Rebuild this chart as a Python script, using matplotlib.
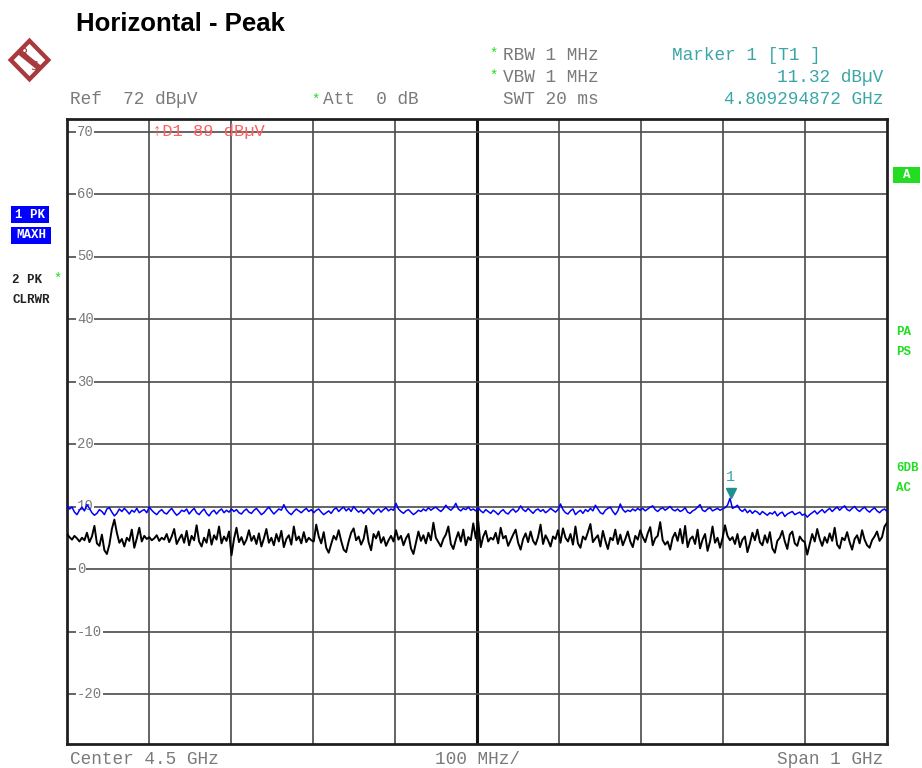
import numpy as np
import matplotlib
matplotlib.use("Agg")
import matplotlib.pyplot as plt
from matplotlib.patches import Polygon, FancyBboxPatch

# ---------------- data ----------------
f_start, f_stop = 4.0, 5.0          # GHz
ref_level = 72                       # dBuV
y_ticks = [70, 60, 50, 40, 30, 20, 10, 0, -10, -20]

# trace 2 : PK / CLRWR (black), 33 points per 100 MHz division
trace_clrwr = [
    5.6, 5.1, 4.7, 5.3, 4.9, 4.4, 5.0, 4.6, 5.8, 4.3, 5.2, 6.9, 4.1, 3.7, 5.5, 3.0, 2.4,
    3.9, 6.4, 7.9, 5.8, 4.2, 4.8, 3.6, 5.0, 4.5, 6.3, 3.4, 4.9, 6.6, 4.4, 5.3, 4.8,
    5.1, 4.6, 4.9, 5.4, 4.5, 5.0, 4.7, 5.6, 4.3, 5.2, 6.4, 4.0, 4.8, 5.5, 4.2, 6.1, 3.8,
    5.3, 4.6, 7.0, 4.4, 3.6, 5.0, 4.2, 6.3, 3.9, 5.4, 4.7, 6.8, 4.1, 5.2, 4.5, 6.0,
    2.2, 4.8, 6.6, 4.3, 5.1, 3.9, 4.7, 6.2, 4.5, 5.3, 4.0, 5.7, 3.6, 4.9, 6.4, 4.2, 5.0,
    3.8, 5.6, 4.4, 6.1, 3.5, 4.8, 5.4, 3.9, 6.8, 4.6, 5.2, 4.1, 5.9, 4.3, 5.0, 4.6,
    4.4, 7.1, 5.2, 4.1, 5.9, 3.4, 2.6, 4.0, 5.3, 4.7, 6.2, 4.5, 3.1, 2.7, 4.4, 5.8, 6.5,
    4.6, 5.2, 3.9, 4.8, 6.9, 4.3, 3.0, 5.6, 4.9, 6.0, 4.2, 5.1, 3.7, 4.6, 5.3, 4.4,
    6.2, 4.7, 5.3, 3.8, 4.9, 5.6, 3.3, 2.4, 4.2, 6.0, 4.5, 5.4, 4.1, 5.8, 4.6, 7.4, 5.0,
    4.3, 3.6, 4.8, 5.5, 6.8, 4.0, 3.2, 4.7, 5.9, 4.4, 6.3, 3.8, 5.1, 4.6, 7.3, 4.9,
    7.6, 3.5, 5.2, 6.1, 4.4, 5.0, 4.7, 5.8, 4.1, 6.6, 4.9, 5.3, 3.7, 4.6, 5.5, 6.3, 4.2,
    3.1, 4.8, 5.7, 4.3, 6.0, 4.5, 3.9, 5.1, 7.1, 4.0, 5.4, 4.6, 3.6, 5.2, 4.8, 6.2,
    4.2, 6.5, 5.0, 4.4, 5.6, 3.9, 6.8, 4.1, 3.4, 5.2, 4.7, 5.9, 7.2, 4.3, 4.9, 5.4, 3.6,
    6.1, 4.5, 3.2, 5.0, 4.6, 6.3, 4.0, 5.5, 3.8, 4.8, 6.0, 4.4, 3.5, 5.3, 4.7, 6.2,
    5.1, 4.3, 5.7, 6.7, 3.8, 4.9, 5.3, 7.5, 4.6, 3.9, 4.4, 3.1, 5.0, 5.8, 4.5, 6.4, 4.1,
    6.9, 3.5, 4.8, 5.2, 4.0, 6.3, 3.3, 4.7, 5.6, 2.9, 4.4, 6.8, 4.2, 5.0, 3.4, 4.9,
    7.0, 5.3, 4.6, 5.1, 4.0, 5.6, 3.5, 4.7, 5.2, 2.7, 4.1, 5.8, 4.6, 6.3, 4.3, 3.8, 5.4,
    4.2, 5.9, 3.3, 2.6, 4.5, 5.0, 6.1, 4.4, 3.2, 5.5, 6.0, 4.1, 3.7, 5.2, 4.6, 4.3,
    2.3, 4.0, 5.6, 4.4, 6.4, 4.8, 3.7, 5.1, 4.2, 5.7, 4.5, 6.6, 3.9, 3.3, 5.0, 4.6, 5.9,
    4.3, 3.1, 4.8, 5.4, 4.1, 6.2, 4.7, 3.8, 3.4, 4.6, 5.2, 6.0, 4.5, 5.1, 6.8, 7.4,
]

# trace 1 : PK / MAXH (blue)
trace_maxh = [
    10.2, 9.6, 9.9, 9.1, 8.7, 9.4, 9.9, 9.3, 10.3, 9.7, 9.0, 8.6, 8.9, 9.5, 9.2, 8.7, 9.6,
    9.8, 9.1, 8.5, 8.9, 9.6, 9.2, 9.7, 9.3, 8.8, 9.4, 9.1, 9.7, 9.0, 9.3, 9.5, 9.0,
    9.9, 9.4, 9.0, 8.7, 9.2, 9.5, 9.0, 8.8, 9.3, 9.7, 9.1, 8.6, 8.9, 9.4, 9.2, 9.6, 8.8,
    9.3, 9.7, 9.0, 8.7, 9.2, 9.6, 8.9, 8.5, 9.1, 9.4, 8.8, 9.3, 9.6, 9.0, 9.4, 9.1,
    9.6, 9.2, 9.5, 9.0, 8.8, 9.3, 9.6, 9.1, 8.9, 9.4, 9.7, 9.2, 8.7, 9.0, 9.5, 9.9, 9.3,
    8.8, 9.2, 9.6, 9.4, 10.3, 9.5, 9.0, 8.7, 9.2, 9.6, 9.3, 9.0, 9.4, 9.7, 9.2, 9.5,
    9.0, 9.4, 9.6, 9.1, 8.7, 9.0, 9.3, 8.9, 9.5, 9.8, 9.2, 9.6, 9.9, 9.3, 9.7, 9.2, 10.0,
    9.5, 9.1, 9.4, 8.9, 9.3, 9.7, 9.2, 8.8, 9.3, 9.6, 9.1, 9.5, 9.8, 9.3, 9.6, 9.4,
    10.5, 9.6, 9.2, 8.9, 9.3, 9.5, 9.1, 8.7, 9.0, 9.4, 9.2, 9.6, 9.3, 9.8, 9.4, 9.7, 9.9,
    9.5, 9.2, 9.6, 10.2, 9.7, 9.4, 9.8, 10.5, 9.6, 9.3, 9.7, 9.5, 9.9, 9.4, 9.6, 9.3,
    9.8, 9.3, 9.0, 9.5, 9.2, 8.9, 9.4, 9.1, 8.7, 9.2, 9.5, 9.0, 8.8, 9.3, 9.6, 9.1, 9.4,
    10.1, 9.5, 9.2, 9.7, 9.3, 8.9, 9.4, 9.6, 9.2, 9.5, 9.0, 9.3, 9.7, 9.4, 9.1, 9.5,
    10.4, 9.5, 9.0, 8.8, 9.3, 9.6, 8.7, 9.1, 9.4, 8.9, 9.5, 9.2, 9.7, 9.3, 10.2, 9.6, 9.0,
    8.8, 9.4, 9.7, 9.9, 9.2, 8.7, 9.3, 10.4, 9.5, 9.1, 9.4, 9.2, 9.6, 9.3, 9.7, 9.4,
    9.7, 9.3, 9.6, 9.9, 10.1, 9.5, 9.2, 9.6, 9.8, 9.4, 9.7, 10.0, 9.5, 9.3, 9.6, 9.2, 9.4,
    9.8, 9.1, 8.9, 9.3, 9.5, 9.9, 10.3, 9.4, 9.2, 9.6, 9.8, 9.3, 9.5, 9.7, 9.4, 9.6,
    9.8, 10.2, 11.3, 9.7, 9.9, 10.2, 9.5, 9.2, 9.6, 9.0, 9.4, 8.9, 9.3, 9.1, 8.7, 9.2, 8.9,
    8.6, 9.0, 8.8, 9.2, 8.5, 8.9, 9.1, 8.4, 8.8, 9.0, 9.2, 8.7, 8.9, 9.1, 8.6, 8.8,
    8.3, 8.7, 9.0, 9.3, 8.8, 9.2, 9.5, 9.0, 9.4, 9.7, 9.2, 9.6, 9.9, 9.4, 9.8, 10.1, 9.5,
    9.3, 9.7, 10.0, 9.5, 9.2, 9.6, 9.9, 9.4, 9.1, 9.5, 9.8, 9.3, 9.0, 9.4, 9.6, 9.2,
]

marker_freq = 4.809294872   # GHz
marker_level = 11.32        # dBuV

# ---------------- figure ----------------
W, H = 922, 768
fig = plt.figure(figsize=(W / 100, H / 100), dpi=100)
fig.patch.set_facecolor("white")

def fx(px):
    return px / W

def fy(py):
    return 1 - py / H

mono = "Liberation Mono"
grey = "#7a7a7a"
teal = "#3aa6a6"
green = "#22dd22"
MS = 12.8   # size of the screen's mono text

ax = fig.add_axes([fx(67), fy(744), fx(887) - fx(67), fy(119) - fy(744)])
ax.set_xlim(f_start, f_stop)
ax.set_ylim(ref_level - 100, ref_level)
ax.set_xticks([])
ax.set_yticks([])
for s in ax.spines.values():
    s.set_linewidth(2)
    s.set_color("#202020")

# grid
for k in range(1, 10):
    xv = f_start + k * (f_stop - f_start) / 10
    if k == 5:
        ax.axvline(xv, color="#111111", lw=2.2, zorder=1)
    else:
        ax.axvline(xv, color="#4a4a4a", lw=1.2, zorder=1)
for yv in y_ticks:
    ax.axhline(yv, color="#4a4a4a", lw=1.2, zorder=1)
    ax.text(0.012, yv, str(yv), transform=ax.get_yaxis_transform(),
            ha="left", va="center", fontsize=10, family=mono, color=grey,
            bbox=dict(facecolor="white", edgecolor="none", pad=0.5), zorder=2)

# traces
f_clr = np.linspace(f_start, f_stop, len(trace_clrwr))
f_max = np.linspace(f_start, f_stop, len(trace_maxh))
ax.plot(f_clr, trace_clrwr, color="black", lw=1.4, zorder=3)
ax.plot(f_max, trace_maxh, color="#0000ff", lw=1.1, zorder=4)

# marker 1
ax.plot([marker_freq], [marker_level + 0.9], marker="v", color="#1f8f8f",
        markersize=7, zorder=5)
ax.text(marker_freq, marker_level + 2.3, "1", ha="center", va="bottom",
        fontsize=11, family=mono, color=teal, zorder=5)

# display line above screen
ax.text(0.104, 70, "\u2191D1 89 dB\u00b5V", transform=ax.get_yaxis_transform(),
        ha="left", va="center", fontsize=12.3, family=mono, color="#ff6060", zorder=5)

# ---------------- header texts ----------------
fig.text(fx(76), fy(24), "Horizontal - Peak", ha="left", va="center",
         fontsize=18.5, fontweight="bold", family="Liberation Sans")

def mtext(px, py, s, color=grey, ha="left", size=MS, weight="normal"):
    fig.text(fx(px), fy(py), s, ha=ha, va="center", fontsize=size,
             family=mono, color=color, fontweight=weight)

mtext(70, 100, "Ref  72 dB\u00b5V")
mtext(311, 100, "*", color=green, size=10)
mtext(323, 100, "Att  0 dB")
mtext(489, 54, "*", color=green, size=10)
mtext(503, 55, "RBW 1 MHz")
mtext(489, 76, "*", color=green, size=10)
mtext(503, 77, "VBW 1 MHz")
mtext(503, 100, "SWT 20 ms")
mtext(672, 55, "Marker 1 [T1 ]", color=teal)
mtext(883, 77, "11.32 dB\u00b5V", color=teal, ha="right")
mtext(883, 100, "4.809294872 GHz", color=teal, ha="right")

# bottom
mtext(70, 760, "Center 4.5 GHz")
mtext(477, 760, "100 MHz/", ha="center")
mtext(883, 760, "Span 1 GHz", ha="right")

# left trace labels
def boxlabel(px0, py0, px1, py1, s, fc, tc, size=9):
    fig.patches.append(FancyBboxPatch((fx(px0), fy(py1)), fx(px1) - fx(px0),
                                      fy(py0) - fy(py1), boxstyle="square,pad=0",
                                      transform=fig.transFigure, facecolor=fc,
                                      edgecolor="none"))
    fig.text((fx(px0) + fx(px1)) / 2, (fy(py0) + fy(py1)) / 2, s, ha="center",
             va="center", fontsize=size, family=mono, color=tc, fontweight="bold")

boxlabel(11, 206, 49, 223, "1 PK", "#0000ff", "white")
boxlabel(11, 227, 51, 244, "MAXH", "#0000ff", "white")
mtext(12, 280, "2 PK", color="#222222", size=9, weight="bold")
mtext(53, 279, "*", color=green, size=10)
mtext(12, 300, "CLRWR", color="#222222", size=9, weight="bold")

# right side annotations
boxlabel(893, 167, 920, 183, "A", green, "white", size=9)
mtext(896, 332, "PA", color=green, size=9, weight="bold")
mtext(896, 352, "PS", color=green, size=9, weight="bold")
mtext(896, 468, "6DB", color=green, size=9, weight="bold")
mtext(896, 488, "AC", color=green, size=9, weight="bold")

# R&S logo
lax = fig.add_axes([fx(7), fy(83), fx(52) - fx(7), fy(37) - fy(83)])
lax.set_xlim(-1, 1)
lax.set_ylim(-1, 1)
lax.axis("off")
logo_c = "#a83a3e"
lax.add_patch(Polygon([[-0.97, 0], [0, 0.97], [0.97, 0], [0, -0.97]], closed=True,
                      facecolor=logo_c, edgecolor="none"))
lax.add_patch(Polygon([[-0.70, 0], [0, 0.70], [0.70, 0], [0, -0.70]], closed=True,
                      facecolor="white", edgecolor="none"))
lax.add_patch(Polygon([[-0.58, 0.30], [-0.40, 0.48], [0.58, -0.30], [0.40, -0.48]],
                      closed=True, facecolor=logo_c, edgecolor="none"))
lax.text(-0.22, 0.28, "R", ha="center", va="center", fontsize=9, color=logo_c,
         family="DejaVu Sans")
lax.text(0.22, -0.30, "S", ha="center", va="center", fontsize=9, color=logo_c,
         family="DejaVu Sans")

fig.savefig("out.png", dpi=100)
